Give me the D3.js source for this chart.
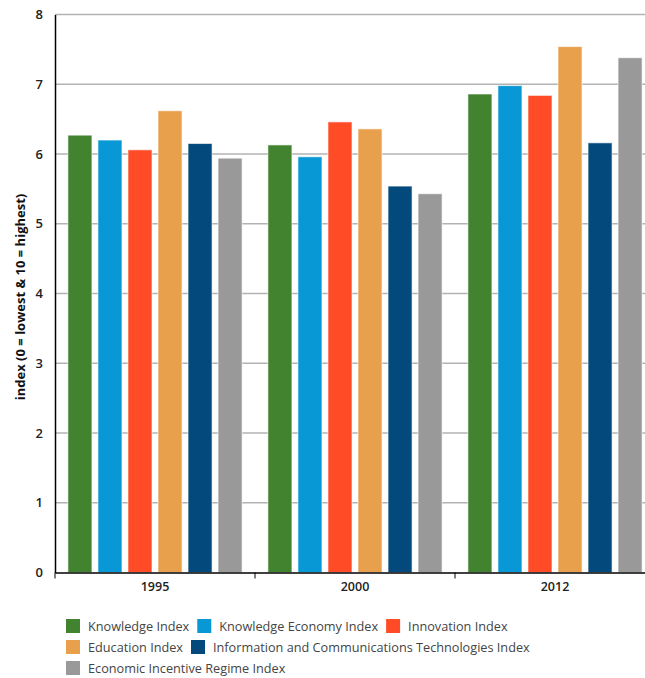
<!DOCTYPE html>
<html>
<head>
<meta charset="utf-8">
<script src="https://cdn.jsdelivr.net/npm/d3@7"></script>
<style>
body { margin: 0; background: #fff; }
text { font-family: "Open Sans", "Noto Sans", sans-serif; }
</style>
</head>
<body>
<svg id="chart" width="645" height="678"></svg>
<script>
const years = ["1995", "2000", "2012"];
const seriesNames = ["Knowledge Index", "Knowledge Economy Index", "Innovation Index",
    "Education Index", "Information and Communications Technologies Index", "Economic Incentive Regime Index"];
const colors = ["#41832f", "#0898d6", "#ff4b26", "#e8a04c", "#03497c", "#999999"];
const values = [
    [6.27, 6.13, 6.86],
    [6.20, 5.96, 6.98],
    [6.06, 6.46, 6.84],
    [6.62, 6.36, 7.54],
    [6.15, 5.54, 6.16],
    [5.94, 5.43, 7.38]
];
const yTicks = [0, 1, 2, 3, 4, 5, 6, 7, 8];

const margin = { top: 14.5, left: 55, right: -10, bottom: 105.5 };
const width = 645 - margin.left - margin.right;
const height = 678 - margin.top - margin.bottom;

const svg = d3.select("#chart");
const g = svg.append("g").attr("transform", `translate(${margin.left}, ${margin.top})`);

const x0 = d3.scaleBand().domain(years).range([0, width]);
const x1 = d3.scaleBand().domain(d3.range(seriesNames.length)).range([0, x0.bandwidth()])
    .paddingInner(0.2).paddingOuter(0.43);
const y = d3.scaleLinear().domain([0, 8]).range([height, 0]);

// gridlines
g.selectAll(".grid")
    .data(yTicks.filter(t => t > 0))
    .enter().append("line")
    .attr("x1", 0).attr("x2", width)
    .attr("y1", d => y(d)).attr("y2", d => y(d))
    .attr("stroke", "#b3b3b3").attr("stroke-width", 1.5);

// bars
years.forEach((yr, yi) => {
    g.selectAll(".bar-" + yi)
        .data(seriesNames.map((s, si) => ({ si, v: values[si][yi] })))
        .enter().append("rect")
        .attr("x", d => x0(yr) + x1(d.si))
        .attr("y", d => y(d.v))
        .attr("width", x1.bandwidth())
        .attr("height", d => y(0) - y(d.v))
        .attr("fill", d => colors[d.si])
        .attr("stroke", "#fff").attr("stroke-opacity", 0.6).attr("stroke-width", 1);
});

// y axis
const yAxis = g.append("g")
    .call(d3.axisLeft(y).tickValues(yTicks).tickSize(0).tickPadding(12));
yAxis.select(".domain").attr("stroke", "#000").attr("stroke-width", 1.5);
yAxis.selectAll("text").attr("font-size", 13).attr("font-weight", 600).attr("fill", "#222");

// x axis
const xAxis = g.append("g")
    .attr("transform", `translate(0, ${height})`)
    .call(d3.axisBottom(x0).tickSize(0).tickPadding(10));
xAxis.select(".domain").attr("stroke", "#000").attr("stroke-width", 1.5);
xAxis.selectAll("text").attr("font-size", 12.5).attr("font-weight", 600).attr("fill", "#222");
xAxis.selectAll(".sep")
    .data(years.map(yr => x0(yr)).concat([width]))
    .enter().append("line")
    .attr("x1", d => d).attr("x2", d => d)
    .attr("y1", 0).attr("y2", 6)
    .attr("stroke", "#000").attr("stroke-width", 1);

// y label
svg.append("text")
    .attr("transform", "translate(25, 297) rotate(-90)")
    .attr("text-anchor", "middle")
    .attr("font-size", 13).attr("font-weight", 700).attr("fill", "#111")
    .text("index (0 = lowest & 10 = highest)");

// legend (flowing)
const legend = svg.append("g");
let lx = 66, ly = 619;
const maxX = 610;
seriesNames.forEach((name, i) => {
    const item = legend.append("g");
    item.append("rect").attr("width", 14).attr("height", 14).attr("fill", colors[i]);
    const t = item.append("text").attr("x", 22).attr("y", 11.5)
        .attr("font-size", 12.7).attr("fill", "#444").text(name);
    const w = 22 + t.node().getComputedTextLength();
    if (lx + w > maxX && lx > 66) { lx = 66; ly += 21; }
    item.attr("transform", `translate(${lx}, ${ly})`);
    lx += w + 8;
});
</script>
</body>
</html>
